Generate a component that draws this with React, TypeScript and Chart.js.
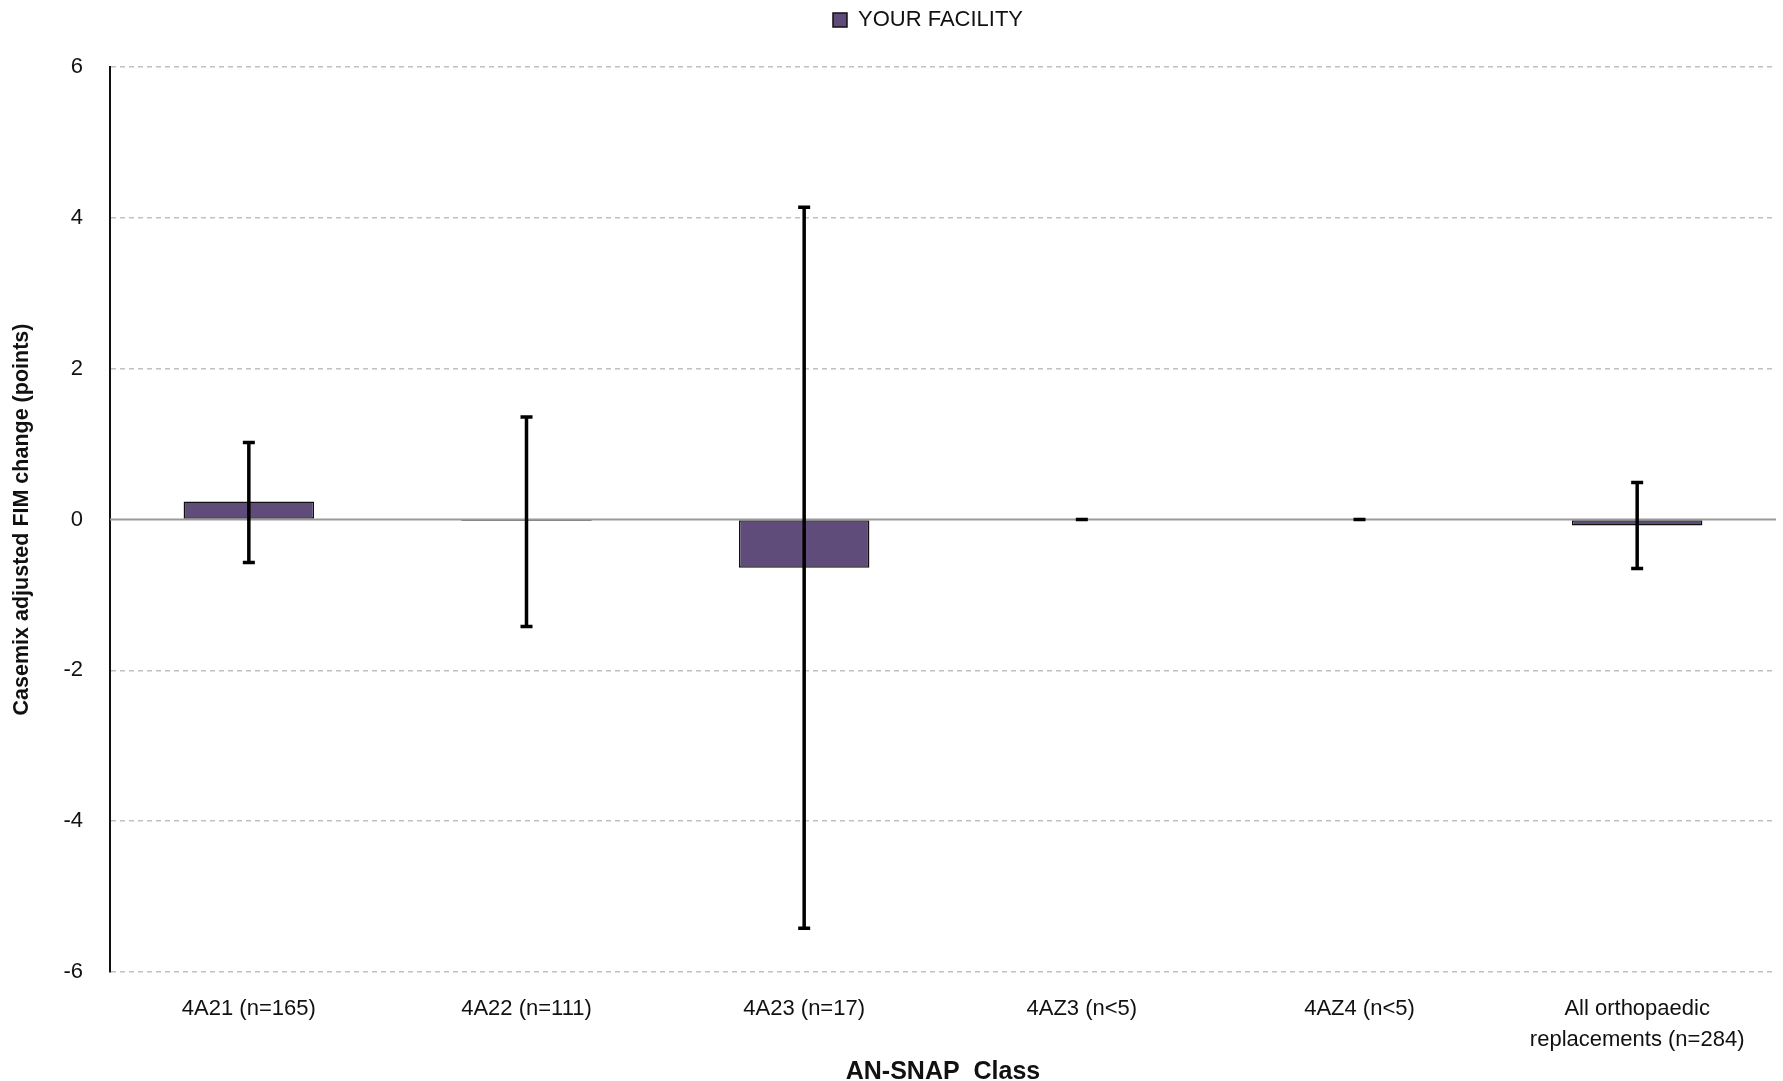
import React, { useEffect, useRef } from 'react';
import { Chart, registerables } from 'chart.js';

Chart.register(...registerables);

const categories: (string | string[])[] = [
  '4A21 (n=165)',
  '4A22 (n=111)',
  '4A23 (n=17)',
  '4AZ3 (n<5)',
  '4AZ4 (n<5)',
  ['All orthopaedic', 'replacements (n=284)'],
];
const seriesLabel = 'YOUR FACILITY';
const values: (number | null)[] = [0.24, -0.02, -0.64, null, null, -0.08];
const errLow = [-0.57, -1.42, -5.42, 0, 0, -0.65];
const errHigh = [1.02, 1.36, 4.14, 0, 0, 0.49];
const yMin = -6;
const yMax = 6;
const yStep = 2;
const yTitle = 'Casemix adjusted FIM change (points)';
const xTitle = 'AN-SNAP  Class';

const FONT = "'Liberation Sans Narrow', 'Arial Narrow', 'Liberation Sans', Arial, sans-serif";
const REG = "'Liberation Sans', Arial, sans-serif";

const W = 1783;
const H = 1081;

const errorBarPlugin = {
  id: 'errorBars',
  afterDatasetsDraw(chart: any) {
    const ctx = chart.ctx;
    const xs = chart.scales.x;
    const ys = chart.scales.y;
    const area = chart.chartArea;
    const y0 = ys.getPixelForValue(0);
    ctx.save();
    ctx.strokeStyle = '#9a9a9a';
    ctx.lineWidth = 2;
    ctx.beginPath();
    ctx.moveTo(area.left, y0);
    ctx.lineTo(area.right, y0);
    ctx.stroke();
    ctx.strokeStyle = '#000';
    ctx.lineWidth = 3.5;
    ctx.lineCap = 'butt';
    for (let i = 0; i < categories.length; i++) {
      const x = xs.getPixelForValue(i);
      const yl = ys.getPixelForValue(errLow[i]);
      const yh = ys.getPixelForValue(errHigh[i]);
      ctx.beginPath();
      ctx.moveTo(x, yl);
      ctx.lineTo(x, yh);
      ctx.stroke();
      ctx.beginPath();
      ctx.moveTo(x - 6, yl);
      ctx.lineTo(x + 6, yl);
      ctx.moveTo(x - 6, yh);
      ctx.lineTo(x + 6, yh);
      ctx.stroke();
    }
    ctx.restore();
  },
};

const legendLayoutPlugin = {
  id: 'legendLayout',
  beforeInit(chart: any) {
    const legend = chart.legend;
    if (!legend) return;
    const origFit = legend.fit;
    legend.fit = function () {
      origFit.call(this);
      this.height = 67;
    };
  },
  afterLayout(chart: any) {
    const legend = chart.legend;
    if (legend) legend.left += 80;
  },
};

export default function App() {
  const ref = useRef<HTMLCanvasElement | null>(null);

  useEffect(() => {
    document.body.style.margin = '0';
    const canvas = ref.current;
    if (!canvas) return;
    const chart = new Chart(canvas, {
      type: 'bar',
      data: {
        labels: categories,
        datasets: [
          {
            label: seriesLabel,
            data: values,
            backgroundColor: '#604c7b',
            borderColor: '#111111',
            borderWidth: 1.5,
            borderSkipped: false,
            categoryPercentage: 1,
            barPercentage: 0.47,
          },
        ],
      },
      options: {
        responsive: false,
        animation: false,
        devicePixelRatio: 1,
        layout: { padding: { left: 0, right: 7, top: 0, bottom: 0 } },
        plugins: {
          legend: {
            display: true,
            position: 'top',
            labels: {
              color: '#111',
              font: { family: FONT, size: 22 },
              boxWidth: 14,
              boxHeight: 14,
              padding: 9,
            },
          },
          tooltip: { enabled: false },
        },
        scales: {
          x: {
            grid: { display: false },
            border: { display: false },
            ticks: {
              color: '#111',
              font: { family: FONT, size: 22, lineHeight: 1.4 },
              padding: 14,
              maxRotation: 0,
              autoSkip: false,
            },
            title: {
              display: true,
              text: xTitle,
              color: '#111',
              font: { family: REG, size: 25, weight: 'bold', lineHeight: 0.75 },
              padding: { top: 0, bottom: 0 },
            },
            afterFit(scale: any) {
              scale.height = 109;
            },
          },
          y: {
            min: yMin,
            max: yMax,
            grid: {
              drawTicks: false,
              color: (c: any) => (c.tick && c.tick.value === 0 ? 'rgba(0,0,0,0)' : '#c0c0c0'),
              lineWidth: 1.5,
            },
            border: { display: true, color: '#111', width: 2, dash: [5, 4] },
            ticks: {
              stepSize: yStep,
              color: '#111',
              font: { family: FONT, size: 22 },
              padding: 27,
            },
            title: {
              display: true,
              text: yTitle,
              color: '#111',
              font: { family: REG, size: 21.5, weight: 'bold', lineHeight: 1.2 },
              padding: { top: 9, bottom: 0 },
            },
            afterFit(scale: any) {
              scale.width = 110;
            },
          },
        },
      },
      plugins: [legendLayoutPlugin, errorBarPlugin],
    } as any);
    return () => chart.destroy();
  }, []);

  return (
    <div style={{ width: W, height: H }}>
      <canvas ref={ref} width={W} height={H} style={{ display: 'block', width: W, height: H }} />
    </div>
  );
}
